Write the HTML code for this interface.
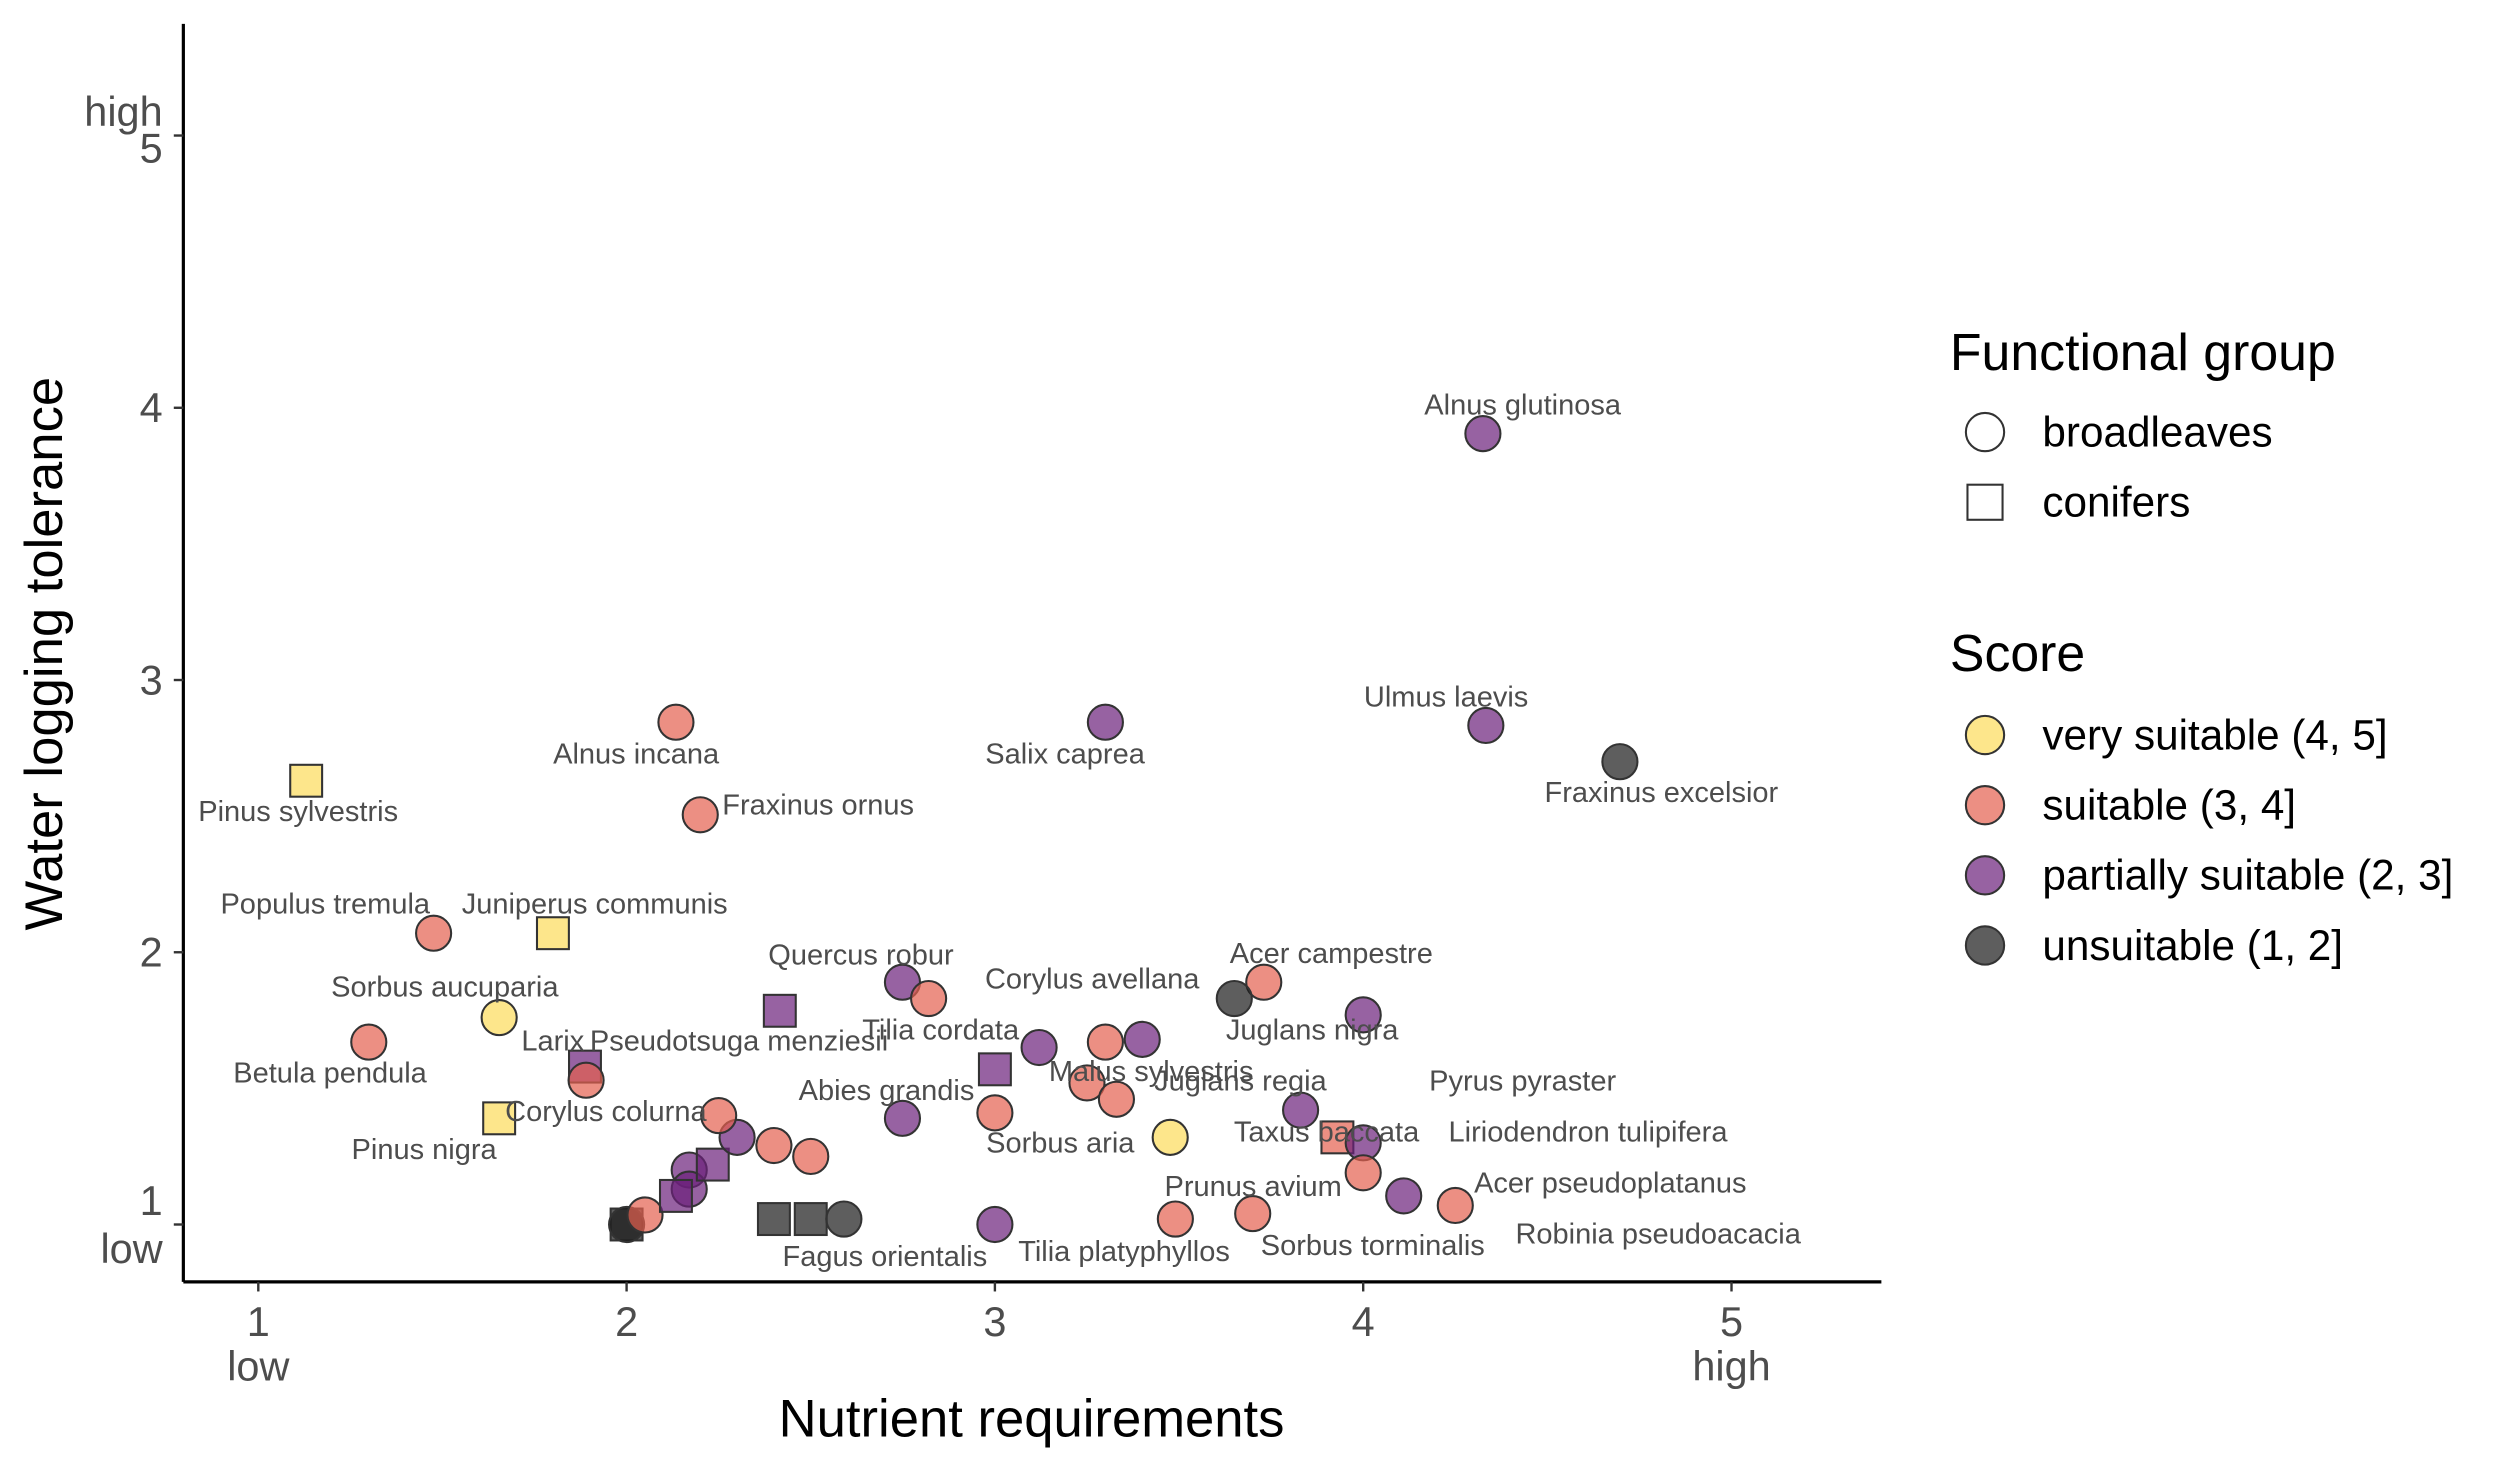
<!DOCTYPE html>
<html><head><meta charset="utf-8"><style>
html,body{margin:0;padding:0;background:#fff;}
svg{display:block;font-family:"Liberation Sans",sans-serif;}
</style></head><body>
<svg id="chart" width="2500" height="1471" viewBox="0 0 1568 922.6" xmlns="http://www.w3.org/2000/svg">
<g id="plot"></g>
<g id="labels" font-size="18.2" fill="#4d4d4d"></g>
<g id="axes"></g>
<g>
<text x="1223" y="232" font-size="32.5" fill="#000">Functional group</text>
<circle cx="1245" cy="271" r="12" fill="none" stroke="#333" stroke-width="1.3"/>
<text x="1281" y="280" font-size="26.5">broadleaves</text>
<rect x="1234" y="304" width="22" height="22" fill="none" stroke="#333" stroke-width="1.3"/>
<text x="1281" y="324" font-size="26.5">conifers</text>
<text x="1223" y="421" font-size="32.5" fill="#000">Score</text>
<g id="scoreLegend"></g>
</g>
</svg>
<script>
const names=["Alnus glutinosa","Ulmus laevis","Fraxinus excelsior","Salix caprea","Alnus incana","Fraxinus ornus","Pinus sylvestris","Populus tremula","Juniperus communis","Sorbus aucuparia","Betula pendula","Larix","Pseudotsuga menziesii","Corylus colurna","Pinus nigra","Quercus robur","Tilia cordata","Corylus avellana","p1","p2","Acer campestre","Juglans nigra","Pyrus pyraster","Malus sylvestris","Juglans regia","c1","Abies grandis","r1","Sorbus aria","p3","Taxus baccata","Liriodendron tulipifera","r2","p4","Acer pseudoplatanus","Prunus avium","r3","Tilia platyphyllos","Fagus orientalis","d1","d2","d3","d4","r4","p5","p6","c2","c3","p7","r5","r6","r7"];
const nutrient=[4.325,4.333,4.697,3.30,2.134,2.20,1.13,1.476,1.80,1.654,1.30,1.887,2.416,1.89,1.654,2.749,2.82,3.30,3.12,3.40,3.73,3.65,4.00,3.25,3.33,3.00,2.749,3.00,3.476,3.83,3.93,4.00,4.00,4.11,4.25,3.70,3.49,3.00,2.59,2.40,2.50,2.00,2.00,2.05,2.17,2.17,2.134,2.234,2.30,2.40,2.50,2.25];
const waterlog=[3.905,2.833,2.70,2.845,2.845,2.505,2.63,2.07,2.07,1.76,1.67,1.58,1.785,1.53,1.39,1.89,1.83,1.67,1.65,1.68,1.89,1.83,1.77,1.52,1.46,1.57,1.39,1.41,1.32,1.42,1.32,1.30,1.19,1.105,1.07,1.04,1.02,1.00,1.02,1.02,1.02,1.00,1.00,1.035,1.20,1.13,1.105,1.22,1.32,1.29,1.25,1.40];
const group=["b","b","b","b","b","b","c","b","c","b","b","c","c","b","c","b","b","b","b","b","b","b","b","b","b","c","b","b","b","b","c","b","b","b","b","b","b","b","b","c","c","c","b","b","b","b","c","c","b","b","b","b"];
const score=[3,3,4,3,2,2,1,2,1,1,2,3,3,2,1,3,2,2,3,3,2,4,3,2,2,3,3,2,1,3,2,3,2,3,2,2,2,3,4,4,4,4,4,2,3,3,3,3,3,2,2,2];
const xTicks=[1,2,3,4,5];
const yTicks=[1,2,3,4,5];
const scoreNames=["very suitable (4, 5]","suitable (3, 4]","partially suitable (2, 3]","unsuitable (1, 2]"];
const fills=["#FCDC5A","#E4604E","#6B1F7B","#1a1a1a"];
const X=v=>162+(v-1)*231, Y=v=>768-(v-1)*170.75;
const NS="http://www.w3.org/2000/svg";
function mk(t,a,p){const e=document.createElementNS(NS,t);for(const k in a)e.setAttribute(k,a[k]);p.appendChild(e);return e;}
const plot=document.getElementById('plot');
for(let i=0;i<nutrient.length;i++){
  const cx=X(nutrient[i]),cy=Y(waterlog[i]);
  let e;
  if(group[i]==="c") e=mk('rect',{x:cx-10,y:cy-10,width:20,height:20},plot);
  else e=mk('circle',{cx:cx,cy:cy,r:11},plot);
  e.setAttribute('fill',fills[score[i]-1]);e.setAttribute('fill-opacity','0.7');
  e.setAttribute('stroke','#333');e.setAttribute('stroke-width','1.3');
  
  
}
const labs=[["Alnus glutinosa",955,260,"middle"],["Ulmus laevis",907,443,"middle"],["Fraxinus excelsior",1042,503,"middle"],["Salix caprea",668,479,"middle"],["Alnus incana",399,479,"middle"],["Fraxinus ornus",453,511,"start"],["Pinus sylvestris",187,515,"middle"],["Populus tremula",204,573,"middle"],["Juniperus communis",373,573,"middle"],["Sorbus aucuparia",279,625,"middle"],["Betula pendula",207,679,"middle"],["Larix",327,659,"start"],["Pseudotsuga menziesii",370,659,"start"],["Corylus colurna",380,703,"middle"],["Pinus nigra",266,727,"middle"],["Quercus robur",540,605,"middle"],["Tilia cordata",590,652,"middle"],["Corylus avellana",685,620,"middle"],["Acer campestre",835,604,"middle"],["Juglans nigra",823,652,"middle"],["Pyrus pyraster",955,684,"middle"],["Malus sylvestris",722,678,"middle"],["Juglans regia",778,684,"middle"],["Abies grandis",556,690,"middle"],["Sorbus aria",665,723,"middle"],["Taxus baccata",832,716,"middle"],["Liriodendron tulipifera",996,716,"middle"],["Acer pseudoplatanus",1010,748,"middle"],["Robinia pseudoacacia",1040,780,"middle"],["Prunus avium",786,750,"middle"],["Sorbus torminalis",861,787,"middle"],["Tilia platyphyllos",705,791,"middle"],["Fagus orientalis",555,794,"middle"]];
const lg=document.getElementById('labels');
labs.forEach(l=>{const t=mk('text',{x:l[1],y:l[2],'text-anchor':l[3]},lg);t.textContent=l[0];

});
const ax=document.getElementById('axes');
let a=mk('line',{x1:115,y1:804,x2:1180,y2:804,stroke:'#000','stroke-width':2},ax);

a=mk('line',{x1:115,y1:15,x2:115,y2:804,stroke:'#000','stroke-width':2},ax);

xTicks.forEach(v=>{const x=X(v);mk('line',{x1:x,y1:804,x2:x,y2:810,stroke:'#333','stroke-width':1.5},ax);
const t=mk('text',{x:x,y:838,'text-anchor':'middle','font-size':26,fill:'#4d4d4d'},ax);t.textContent=v;
});
yTicks.forEach(v=>{const y=Y(v);mk('line',{x1:109,y1:y,x2:115,y2:y,stroke:'#333','stroke-width':1.5},ax);
const off=(v===5)?17:(v===1?-6:9);
const t=mk('text',{x:102,y:y+off,'text-anchor':'end','font-size':26,fill:'#4d4d4d'},ax);t.textContent=v;
});
[["low",162,866,"middle"],["high",1086,866,"middle"],["high",102,79,"end"],["low",102,792,"end"]].forEach(l=>{
const t=mk('text',{x:l[1],y:l[2],'text-anchor':l[3],'font-size':26,fill:'#4d4d4d'},ax);t.textContent=l[0];
});
let t=mk('text',{x:647,y:901,'text-anchor':'middle','font-size':33,fill:'#000'},ax);t.textContent="Nutrient requirements";

t=mk('text',{x:0,y:0,'text-anchor':'middle','font-size':33,fill:'#000',transform:'translate(39,410) rotate(-90)'},ax);t.textContent="Water logging tolerance";

const sl=document.getElementById('scoreLegend');
scoreNames.forEach((s,i)=>{const y=461+i*44;
const c=mk('circle',{cx:1245,cy:y,r:12,fill:fills[i],'fill-opacity':0.7,stroke:'#333','stroke-width':1.3},sl);

const tt=mk('text',{x:1281,y:y+9,'font-size':26.5},sl);tt.textContent=s;
});
</script>
</body></html>
